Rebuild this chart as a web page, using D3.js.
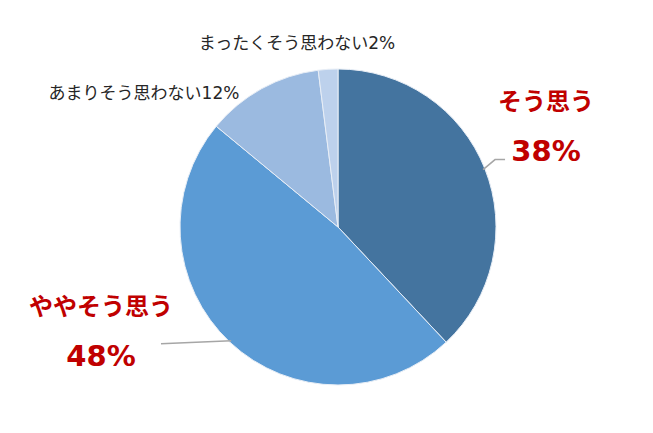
<!DOCTYPE html>
<html>
<head>
<meta charset="utf-8">
<script src="https://cdn.jsdelivr.net/npm/d3@7"></script>
<style>
  body { margin: 0; background: #fff; }
  text { font-family: "DejaVu Sans", "Noto Sans CJK JP", sans-serif; }
</style>
</head>
<body>
<svg id="chart" width="653" height="433"></svg>
<script>
// answers, in drawing order (clockwise from 12 o'clock)
const categories = ['そう思う', 'ややそう思う', 'あまりそう思わない', 'まったくそう思わない']
const values = [38, 48, 12, 2]
const colors = ['#44749f', '#5b9bd5', '#9bbae0', '#bdd1ec']

const svg = d3.select('#chart')
const cx = 338
const cy = 227
const radius = 158

const pie = d3.pie().sort(null).value(d => d.value)
const arc = d3.arc().innerRadius(0).outerRadius(radius)

const data = categories.map((c, i) => ({ name: c, value: values[i], color: colors[i] }))
const arcs = pie(data)

const g = svg.append('g').attr('transform', `translate(${cx},${cy})`)

g.selectAll('path')
  .data(arcs)
  .enter()
  .append('path')
  .attr('d', arc)
  .attr('fill', d => d.data.color)
  .attr('stroke', '#e8eef6')
  .attr('stroke-width', 1)

// point on the rim for a slice, used as leader line start
function rim (d, r) {
  const a = (d.startAngle + d.endAngle) / 2
  return [cx + Math.sin(a) * r, cy - Math.cos(a) * r]
}

// big red labels with leader lines
const p0 = rim(arcs[0], radius - 2)
svg.append('polyline')
  .attr('points', [p0, [p0[0] + 12, p0[1] - 10], [p0[0] + 22, p0[1] - 10]].map(p => p.join(',')).join(' '))
  .attr('fill', 'none')
  .attr('stroke', '#a6a6a6')
  .attr('stroke-width', 1.5)

const p1 = rim(arcs[1], radius - 2)
svg.append('polyline')
  .attr('points', [p1, [161, p1[1] + 3]].map(p => p.join(',')).join(' '))
  .attr('fill', 'none')
  .attr('stroke', '#a6a6a6')
  .attr('stroke-width', 1.5)

const bigLabels = [
  { x: 546, y1: 110, y2: 161, i: 0 },
  { x: 101, y1: 315, y2: 366, i: 1 }
]
bigLabels.forEach(l => {
  const t = svg.append('text')
    .attr('text-anchor', 'middle')
    .attr('fill', '#c00000')
    .attr('font-weight', 'bold')
  t.append('tspan').attr('x', l.x).attr('y', l.y1).attr('font-size', 24).text(categories[l.i])
  t.append('tspan').attr('x', l.x).attr('y', l.y2).attr('font-size', 29).text(values[l.i] + '%')
})

// small labels for the two thin slices
const smallLabels = [
  { x: 297, y: 49, i: 3 },
  { x: 144, y: 99, i: 2 }
]
smallLabels.forEach(l => {
  svg.append('text')
    .attr('x', l.x)
    .attr('y', l.y)
    .attr('text-anchor', 'middle')
    .attr('fill', '#262626')
    .attr('font-size', 17)
    .text(categories[l.i] + values[l.i] + '%')
})
</script>
</body>
</html>
